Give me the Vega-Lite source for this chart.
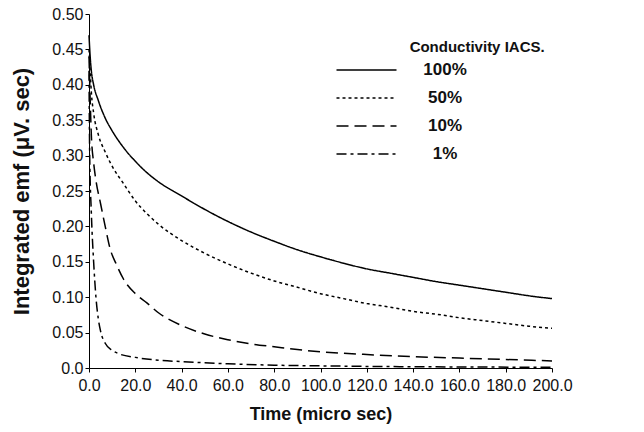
{
  "$schema": "https://vega.github.io/schema/vega-lite/v6.json",
  "width": 463,
  "height": 354,
  "autosize": {"type": "none"},
  "padding": {"left": 89, "top": 14, "right": 92, "bottom": 64},
  "background": "white",
  "config": {
    "view": {"stroke": null},
    "font": "Liberation Sans",
    "axis": {
      "domainColor": "black",
      "tickColor": "black",
      "labelColor": "#111",
      "titleColor": "#111",
      "labelFont": "Liberation Sans",
      "titleFont": "Liberation Sans",
      "labelFontSize": 16,
      "titleFontWeight": "bold",
      "grid": false,
      "tickSize": 4,
      "labelOverlap": false,
      "labelFlush": false
    }
  },
  "datasets": {
    "curves": [
      {"t": 0, "v": 0.47, "c": "100%"},
      {"t": 0.5, "v": 0.44, "c": "100%"},
      {"t": 1, "v": 0.42, "c": "100%"},
      {"t": 2, "v": 0.40, "c": "100%"},
      {"t": 4, "v": 0.378, "c": "100%"},
      {"t": 7, "v": 0.353, "c": "100%"},
      {"t": 10, "v": 0.335, "c": "100%"},
      {"t": 15, "v": 0.311, "c": "100%"},
      {"t": 20, "v": 0.292, "c": "100%"},
      {"t": 25, "v": 0.276, "c": "100%"},
      {"t": 30, "v": 0.263, "c": "100%"},
      {"t": 40, "v": 0.243, "c": "100%"},
      {"t": 50, "v": 0.224, "c": "100%"},
      {"t": 60, "v": 0.207, "c": "100%"},
      {"t": 70, "v": 0.192, "c": "100%"},
      {"t": 80, "v": 0.179, "c": "100%"},
      {"t": 90, "v": 0.167, "c": "100%"},
      {"t": 100, "v": 0.157, "c": "100%"},
      {"t": 110, "v": 0.148, "c": "100%"},
      {"t": 120, "v": 0.140, "c": "100%"},
      {"t": 130, "v": 0.134, "c": "100%"},
      {"t": 140, "v": 0.128, "c": "100%"},
      {"t": 150, "v": 0.122, "c": "100%"},
      {"t": 160, "v": 0.117, "c": "100%"},
      {"t": 170, "v": 0.112, "c": "100%"},
      {"t": 180, "v": 0.107, "c": "100%"},
      {"t": 190, "v": 0.102, "c": "100%"},
      {"t": 200, "v": 0.098, "c": "100%"},
      {"t": 0, "v": 0.45, "c": "50%"},
      {"t": 0.5, "v": 0.42, "c": "50%"},
      {"t": 1, "v": 0.39, "c": "50%"},
      {"t": 2, "v": 0.36, "c": "50%"},
      {"t": 4, "v": 0.33, "c": "50%"},
      {"t": 7, "v": 0.305, "c": "50%"},
      {"t": 10, "v": 0.285, "c": "50%"},
      {"t": 15, "v": 0.26, "c": "50%"},
      {"t": 20, "v": 0.236, "c": "50%"},
      {"t": 25, "v": 0.218, "c": "50%"},
      {"t": 30, "v": 0.203, "c": "50%"},
      {"t": 40, "v": 0.18, "c": "50%"},
      {"t": 50, "v": 0.162, "c": "50%"},
      {"t": 60, "v": 0.147, "c": "50%"},
      {"t": 70, "v": 0.134, "c": "50%"},
      {"t": 80, "v": 0.123, "c": "50%"},
      {"t": 90, "v": 0.114, "c": "50%"},
      {"t": 100, "v": 0.105, "c": "50%"},
      {"t": 110, "v": 0.098, "c": "50%"},
      {"t": 120, "v": 0.091, "c": "50%"},
      {"t": 130, "v": 0.086, "c": "50%"},
      {"t": 140, "v": 0.08, "c": "50%"},
      {"t": 150, "v": 0.076, "c": "50%"},
      {"t": 160, "v": 0.071, "c": "50%"},
      {"t": 170, "v": 0.067, "c": "50%"},
      {"t": 180, "v": 0.063, "c": "50%"},
      {"t": 190, "v": 0.059, "c": "50%"},
      {"t": 200, "v": 0.056, "c": "50%"},
      {"t": 0, "v": 0.44, "c": "10%"},
      {"t": 0.5, "v": 0.38, "c": "10%"},
      {"t": 1, "v": 0.33, "c": "10%"},
      {"t": 2, "v": 0.29, "c": "10%"},
      {"t": 3, "v": 0.265, "c": "10%"},
      {"t": 5, "v": 0.232, "c": "10%"},
      {"t": 7, "v": 0.2, "c": "10%"},
      {"t": 9, "v": 0.17, "c": "10%"},
      {"t": 12, "v": 0.145, "c": "10%"},
      {"t": 15, "v": 0.125, "c": "10%"},
      {"t": 20, "v": 0.105, "c": "10%"},
      {"t": 25, "v": 0.092, "c": "10%"},
      {"t": 30, "v": 0.078, "c": "10%"},
      {"t": 40, "v": 0.06, "c": "10%"},
      {"t": 50, "v": 0.048, "c": "10%"},
      {"t": 60, "v": 0.04, "c": "10%"},
      {"t": 70, "v": 0.034, "c": "10%"},
      {"t": 80, "v": 0.03, "c": "10%"},
      {"t": 90, "v": 0.026, "c": "10%"},
      {"t": 100, "v": 0.023, "c": "10%"},
      {"t": 120, "v": 0.019, "c": "10%"},
      {"t": 140, "v": 0.016, "c": "10%"},
      {"t": 160, "v": 0.014, "c": "10%"},
      {"t": 180, "v": 0.012, "c": "10%"},
      {"t": 200, "v": 0.01, "c": "10%"},
      {"t": 0, "v": 0.42, "c": "1%"},
      {"t": 0.3, "v": 0.30, "c": "1%"},
      {"t": 1, "v": 0.22, "c": "1%"},
      {"t": 2, "v": 0.15, "c": "1%"},
      {"t": 3, "v": 0.1, "c": "1%"},
      {"t": 4, "v": 0.07, "c": "1%"},
      {"t": 5, "v": 0.052, "c": "1%"},
      {"t": 7, "v": 0.035, "c": "1%"},
      {"t": 10, "v": 0.025, "c": "1%"},
      {"t": 13, "v": 0.02, "c": "1%"},
      {"t": 20, "v": 0.015, "c": "1%"},
      {"t": 30, "v": 0.011, "c": "1%"},
      {"t": 40, "v": 0.009, "c": "1%"},
      {"t": 60, "v": 0.006, "c": "1%"},
      {"t": 80, "v": 0.004, "c": "1%"},
      {"t": 100, "v": 0.003, "c": "1%"},
      {"t": 130, "v": 0.002, "c": "1%"},
      {"t": 160, "v": 0.0015, "c": "1%"},
      {"t": 200, "v": 0.001, "c": "1%"}
    ],
    "legendTitle": [
      {"t": 138.5, "v": 0.453, "label": "Conductivity IACS."}
    ]
  },
  "layer": [
    {
      "data": {"name": "curves"},
      "mark": {"type": "line", "color": "black", "strokeWidth": 1.5, "interpolate": "monotone"},
      "encoding": {
        "x": {
          "field": "t", "type": "quantitative",
          "scale": {"domain": [0, 200], "nice": false, "zero": true},
          "axis": {"values": [0, 20, 40, 60, 80, 100, 120, 140, 160, 180, 200], "tickCount": 11, "format": ".1f", "title": "Time (micro sec)", "titleFontSize": 18, "titlePadding": 12, "labelPadding": 5, "labelOverlap": false, "labelFlush": false}
        },
        "y": {
          "field": "v", "type": "quantitative",
          "scale": {"domain": [0, 0.5], "nice": false},
          "axis": {"values": [0, 0.05, 0.1, 0.15, 0.2, 0.25, 0.3, 0.35, 0.4, 0.45, 0.5], "tickCount": 11, "labelExpr": "datum.value == 0 ? '0.0' : format(datum.value, '.2f')", "title": "Integrated emf (μV. sec)", "titleFontSize": 22, "titlePadding": 18, "labelPadding": 2, "labelOverlap": false, "labelFlush": false}
        },
        "strokeDash": {
          "field": "c", "type": "nominal",
          "scale": {"domain": ["100%", "50%", "10%", "1%"], "range": [[1, 0], [3, 3], [12, 6], [10, 4, 3, 4]]},
          "legend": {
            "title": null,
            "orient": "none",
            "legendX": 269,
            "legendY": 47.5,
            "symbolType": "M-6,0H6",
            "symbolSize": 100,
            "symbolStrokeColor": "black",
            "symbolFillColor": "transparent",
            "symbolStrokeWidth": 1.5,
            "labelFont": "Liberation Sans",
            "labelFontSize": 17,
            "labelFontWeight": "bold",
            "labelColor": "#111",
            "labelAlign": "center",
            "labelOffset": 70,
            "rowPadding": 10
          }
        }
      }
    },
    {
      "data": {"name": "legendTitle"},
      "mark": {"type": "text", "align": "left", "baseline": "middle", "font": "Liberation Sans", "fontSize": 15, "fontWeight": "bold", "color": "#111"},
      "encoding": {
        "x": {"field": "t", "type": "quantitative"},
        "y": {"field": "v", "type": "quantitative"},
        "text": {"field": "label"}
      }
    }
  ]
}
